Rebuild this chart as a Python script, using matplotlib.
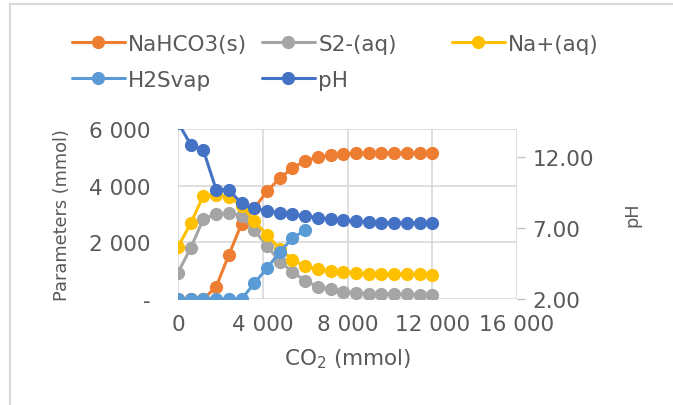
import matplotlib
matplotlib.use("Agg")
import matplotlib.pyplot as plt
from matplotlib.lines import Line2D

# data
co2 = [0, 600, 1200, 1800, 2400, 3000, 3600, 4200, 4800, 5400, 6000,
       6600, 7200, 7800, 8400, 9000, 9600, 10200, 10800, 11400, 12000]
nahco3 = [0, 0, 0, 430, 1560, 2650, 3200, 3800, 4260, 4620, 4880,
          5000, 5080, 5130, 5140, 5150, 5155, 5160, 5160, 5160, 5160]
s2 = [930, 1800, 2830, 2990, 3030, 2945, 2430, 1880, 1320, 960, 648,
      430, 353, 259, 212, 190, 177, 170, 163, 158, 153]
na = [1840, 2670, 3650, 3680, 3600, 3300, 2740, 2270, 1767, 1390, 1150,
      1050, 990, 943, 918, 900, 883, 877, 870, 865, 860]
h2s = [0, 0, 0, 0, 0, 0, 550, 1090, 1650, 2150, 2430]
ph = [14.45, 12.9, 12.5, 9.72, 9.70, 8.75, 8.4, 8.22, 8.08, 7.97, 7.87,
      7.75, 7.63, 7.56, 7.49, 7.44, 7.40, 7.37, 7.35, 7.35, 7.35]

xticks = [0, 4000, 8000, 12000, 16000]
xticklabels = ["0", "4 000", "8 000", "12 000", "16 000"]
yticks = [0, 2000, 4000, 6000]
yticklabels = ["-", "2 000", "4 000", "6 000"]
phticks = [2, 7, 12]
phticklabels = ["2.00", "7.00", "12.00"]

plt.rcParams['font.family'] = ['DejaVu Sans']
txt = "#595959"
grid = "#d9d9d9"
fs = 15.5    # horizontal text
fsv = 12.8   # rotated axis titles

fig = plt.figure(figsize=(6.73, 4.06), dpi=100)
W, H = 673, 406
ax = fig.add_axes([178 / W, 1 - 300 / H, (517 - 178) / W, 170 / H])

style = dict(lw=2.2, marker="o", ms=8.5, solid_capstyle="round")
l1, = ax.plot(co2, nahco3, color="#ED7D31", label="NaHCO3(s)", **style)
l2, = ax.plot(co2, s2, color="#A5A5A5", label="S2-(aq)", **style)
l3, = ax.plot(co2, na, color="#FFC000", label="Na+(aq)", **style)
l4, = ax.plot(co2[:len(h2s)], h2s, color="#5B9BD5", label="H2Svap", **style)

ax.set_xlim(0, 16000)
ax.set_ylim(0, 6000)
ax.set_xticks(xticks)
ax.set_xticklabels(xticklabels)
ax.set_yticks(yticks)
ax.set_yticklabels(yticklabels)
ax.grid(True, color=grid, lw=1.2)
ax.set_axisbelow(True)
for s in ax.spines.values():
    s.set_visible(False)
ax.tick_params(axis="both", length=0, labelsize=fs, labelcolor=txt)
ax.tick_params(axis="y", pad=20)
ax.tick_params(axis="x", pad=11)
ax.set_xlabel("CO$_2$ (mmol)", fontsize=fs, color=txt, labelpad=9)
ax.set_ylabel("Parameters (mmol)", fontsize=fsv, color=txt)
ax.yaxis.set_label_coords(-0.316, 0.5)

ax2 = ax.twinx()
l5, = ax2.plot(co2, ph, color="#4472C4", label="pH", **style)
ax2.set_ylim(2, 14)
ax2.set_yticks(phticks)
ax2.set_yticklabels(phticklabels)
for s in ax2.spines.values():
    s.set_visible(False)
ax2.tick_params(axis="y", length=6, width=1, color="#bfbfbf",
                labelsize=fs, labelcolor=txt, pad=5)
ax2.set_ylabel("pH", fontsize=fsv, color=txt, labelpad=21)

# legend laid out in three columns like the original
cols = [([l1, l4], 72), ([l2, l5], 262), ([l3], 452)]
for handles, xpx in cols:
    fig.legend(handles=handles, loc="upper left",
               bbox_to_anchor=(xpx / W, 1 - 35 / H),
               frameon=False, fontsize=fs, handlelength=2.46,
               handletextpad=0.15, labelspacing=0.74,
               borderaxespad=0, borderpad=0, labelcolor=txt)

# outer chart frame
fig.add_artist(Line2D([10 / W, 10 / W], [0, 1 - 5 / H], color=grid, lw=1.5))
fig.add_artist(Line2D([10 / W, 1], [1 - 5 / H, 1 - 5 / H], color=grid, lw=1.5))

fig.savefig("out.png", dpi=100)
